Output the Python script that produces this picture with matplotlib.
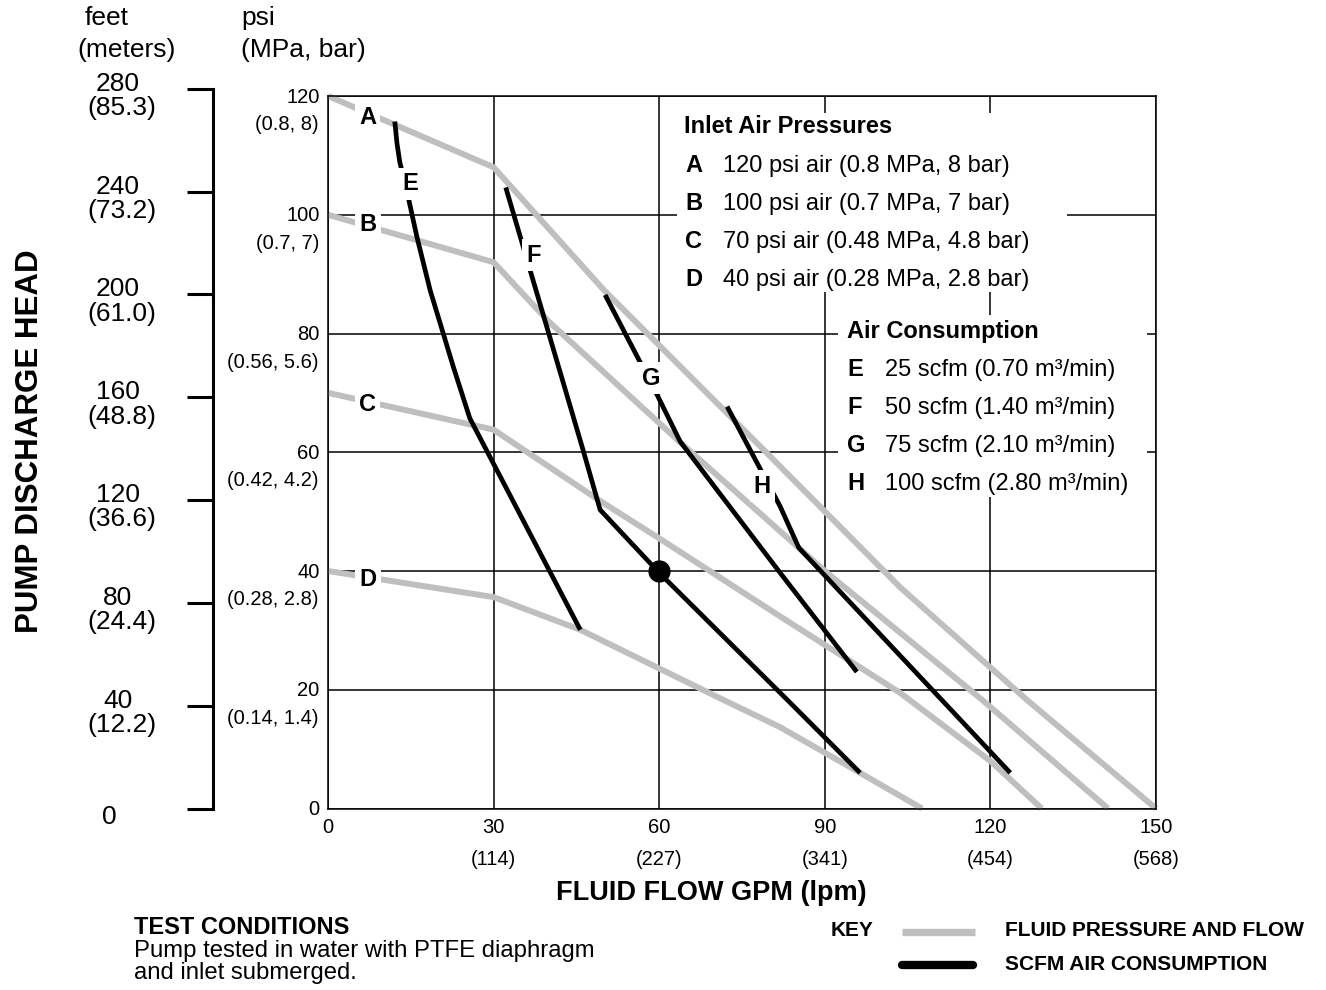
import matplotlib.pyplot as plt
from matplotlib.lines import Line2D
from matplotlib.patches import Rectangle

plt.rcParams['font.family'] = ['Liberation Sans', 'DejaVu Sans']

# fluid pressure / flow curves (GPM, psi)
gpm_a = [0, 30, 50, 78.3, 103.6, 126.6, 150]
psi_a = [120, 108, 87.3, 61, 37.3, 18.3, 0]
gpm_b = [0, 30, 40, 64, 90, 118.5, 141.3]
psi_b = [100, 92, 82, 61.5, 40, 18.3, 0]
gpm_c = [0, 30, 49.3, 60, 82, 103.6, 120, 129.3]
psi_c = [70, 63.8, 51.8, 45.5, 32.3, 19.5, 8, 0]
gpm_d = [0, 30, 45.7, 71.6, 81.9, 96.4, 107.6]
psi_d = [40, 35.6, 30.1, 18.3, 13.7, 6.0, 0]

# air consumption curves (GPM, psi)
gpm_e = [12.1, 12.5, 13.0, 14.5, 16.1, 18.5, 22.7, 25.7, 45.7]
psi_e = [115.7, 112.0, 108.9, 103.1, 96.3, 87.3, 74.4, 65.7, 30.1]
gpm_f = [32.2, 46.2, 49.3, 60, 83.2, 96.4]
psi_f = [104.6, 60.4, 50.3, 39.7, 18.3, 6.0]
gpm_g = [50.2, 59.5, 63.8, 81.9, 95.8]
psi_g = [86.5, 69.9, 61.8, 39.7, 23.0]
gpm_h = [72.3, 81.9, 85.3, 123.6]
psi_h = [67.7, 50.9, 43.9, 6.0]

# operating point
dot_gpm, dot_psi = 60, 40

# axis ticks
gpm_ticks = [0, 30, 60, 90, 120, 150]
lpm_labels = ['', '(114)', '(227)', '(341)', '(454)', '(568)']
psi_ticks = [0, 20, 40, 60, 80, 100, 120]
mpa_labels = ['', '(0.14, 1.4)', '(0.28, 2.8)', '(0.42, 4.2)',
              '(0.56, 5.6)', '(0.7, 7)', '(0.8, 8)']
feet_ticks = [0, 40, 80, 120, 160, 200, 240, 280]
meter_labels = ['', '(12.2)', '(24.4)', '(36.6)', '(48.8)', '(61.0)', '(73.2)', '(85.3)']
ft_per_psi = 2.31

inlet_keys = ['A', 'B', 'C', 'D']
inlet_text = ['120 psi air (0.8 MPa, 8 bar)', '100 psi air (0.7 MPa, 7 bar)',
              '70 psi air (0.48 MPa, 4.8 bar)', '40 psi air (0.28 MPa, 2.8 bar)']
air_keys = ['E', 'F', 'G', 'H']
air_text = ['25 scfm (0.70 m³/min)', '50 scfm (1.40 m³/min)',
            '75 scfm (2.10 m³/min)', '100 scfm (2.80 m³/min)']

W, H = 1326, 990
GRAY = '#bfbfbf'

fig = plt.figure(figsize=(W / 100, H / 100), dpi=100)
ax = fig.add_axes([328 / W, 1 - 808.5 / H, 828 / W, 712.5 / H])
ax.set_xlim(0, 150)
ax.set_ylim(0, 120)
ax.set_axisbelow(True)
ax.set_xticks(gpm_ticks)
ax.set_yticks(psi_ticks)
ax.grid(True, color='black', lw=1.1)
ax.tick_params(length=0, labelbottom=False, labelleft=False)
for s in ax.spines.values():
    s.set_linewidth(1.1)

# gray fluid curves
for g, p in [(gpm_a, psi_a), (gpm_b, psi_b), (gpm_c, psi_c), (gpm_d, psi_d)]:
    ax.plot(g, p, color=GRAY, lw=4.3, solid_capstyle='butt', solid_joinstyle='round', zorder=2, clip_on=False)
# black air curves
for g, p in [(gpm_e, psi_e), (gpm_f, psi_f), (gpm_g, psi_g), (gpm_h, psi_h)]:
    ax.plot(g, p, color='black', lw=3.4, solid_capstyle='butt', solid_joinstyle='round', zorder=3)
ax.plot(dot_gpm, dot_psi, 'o', color='black', ms=15, zorder=4)

# curve letters
curve_lbl = [('A', 7.2, 116.3), ('B', 7.2, 98.3), ('C', 7.2, 68.1), ('D', 7.2, 38.5),
             ('E', 14.9, 105.2), ('F', 37.2, 93.2), ('G', 58.5, 72.5), ('H', 78.7, 54.3)]
for t, x, y in curve_lbl:
    ax.text(x, y, t, ha='center', va='center', fontsize=17, fontweight='bold', zorder=5,
            bbox=dict(facecolor='white', edgecolor='none', pad=3))

# legend blocks with white background
ax.add_patch(Rectangle((0.4215, 0.725), 0.471, 0.251, transform=ax.transAxes,
                       facecolor='white', edgecolor='none', zorder=1))
ax.add_patch(Rectangle((0.616, 0.437), 0.373, 0.256, transform=ax.transAxes,
                       facecolor='white', edgecolor='none', zorder=1))
ax.text(0.430, 0.9475, 'Inlet Air Pressures', transform=ax.transAxes, fontsize=17,
        fontweight='bold', va='baseline', zorder=5)
for i, (k, t) in enumerate(zip(inlet_keys, inlet_text)):
    y = 0.8935 - i * 0.0533
    ax.text(0.4312, y, k, transform=ax.transAxes, fontsize=17, fontweight='bold', va='baseline', zorder=5)
    ax.text(0.4771, y, t, transform=ax.transAxes, fontsize=17, va='baseline', zorder=5)
ax.text(0.6268, 0.6604, 'Air Consumption', transform=ax.transAxes, fontsize=17,
        fontweight='bold', va='baseline', zorder=5)
for i, (k, t) in enumerate(zip(air_keys, air_text)):
    y = 0.6076 - i * 0.0533
    ax.text(0.6268, y, k, transform=ax.transAxes, fontsize=17, fontweight='bold', va='baseline', zorder=5)
    ax.text(0.6727, y, t, transform=ax.transAxes, fontsize=17, va='baseline', zorder=5)

# tick labels
for g, l in zip(gpm_ticks, lpm_labels):
    ax.annotate(str(g), xy=(g, 0), xycoords=('data', 'axes fraction'), xytext=(0, -17.5),
                textcoords='offset points', ha='center', va='baseline', fontsize=14.5)
    if l:
        ax.annotate(l, xy=(g, 0), xycoords=('data', 'axes fraction'), xytext=(0, -40.7),
                    textcoords='offset points', ha='center', va='baseline', fontsize=14.5)
for p, l in zip(psi_ticks, mpa_labels):
    ax.annotate(str(p), xy=(0, p), xycoords=('axes fraction', 'data'), xytext=(-6, -4.7),
                textcoords='offset points', ha='right', va='baseline', fontsize=14.5)
    if l:
        ax.annotate(l, xy=(0, p), xycoords=('axes fraction', 'data'), xytext=(-6.5, -24.5),
                    textcoords='offset points', ha='right', va='baseline', fontsize=14.5)

# feet axis
ft_top = 300
ax2 = fig.add_axes([213 / W, 1 - 808.5 / H, 30 / W, 712.5 / H * ft_top / (120 * ft_per_psi)])
ax2.set_ylim(0, ft_top)
ax2.patch.set_visible(False)
for s in ['top', 'right', 'bottom']:
    ax2.spines[s].set_visible(False)
ax2.spines['left'].set_linewidth(2.2)
ax2.spines['left'].set_bounds(0, 280)
ax2.set_xticks([])
ax2.set_yticks(feet_ticks)
ax2.tick_params(axis='y', length=18.7, width=2.2, labelleft=False)
for f, m in zip(feet_ticks, meter_labels):
    ax2.annotate(str(f), xy=(0, f), xycoords=('axes fraction', 'data'),
                 xytext=(-68.5 if m else -75, -1.4 if m else -11), textcoords='offset points',
                 ha='center', va='baseline', fontsize=19)
    if m:
        ax2.annotate(m, xy=(0, f), xycoords=('axes fraction', 'data'), xytext=(-65.5, -19),
                     textcoords='offset points', ha='center', va='baseline', fontsize=19)

# headers and axis titles
fig.text(85 / W, 1 - 25 / H, 'feet', fontsize=19, va='baseline')
fig.text(77 / W, 1 - 57 / H, '(meters)', fontsize=19, va='baseline')
fig.text(241 / W, 1 - 25 / H, 'psi', fontsize=19, va='baseline')
fig.text(241 / W, 1 - 57 / H, '(MPa, bar)', fontsize=19, va='baseline')
fig.text(30 / W, 1 - 441 / H, 'PUMP DISCHARGE HEAD', rotation=90, ha='center', va='center',
         fontsize=22.5, fontweight='bold')
fig.text(711 / W, 1 - 893 / H, 'FLUID FLOW GPM (lpm)', ha='center', va='center',
         fontsize=19.5, fontweight='bold')

# test conditions
fig.text(134 / W, 1 - 927 / H, 'TEST CONDITIONS', fontsize=17, fontweight='bold', va='center')
fig.text(134 / W, 1 - 951 / H, 'Pump tested in water with PTFE diaphragm', fontsize=17.2, va='center')
fig.text(134 / W, 1 - 973 / H, 'and inlet submerged.', fontsize=17.2, va='center')

# key
fig.text(831 / W, 1 - 931 / H, 'KEY', fontsize=15, fontweight='bold', va='center')
fig.add_artist(Line2D([902 / W, 975 / W], [1 - 932 / H, 1 - 932 / H], color=GRAY, lw=5.3,
                      solid_capstyle='butt'))
fig.add_artist(Line2D([902 / W, 973 / W], [1 - 964.5 / H, 1 - 964.5 / H], color='black', lw=6,
                      solid_capstyle='round'))
fig.text(1005 / W, 1 - 931 / H, 'FLUID PRESSURE AND FLOW', fontsize=15, fontweight='bold', va='center')
fig.text(1005 / W, 1 - 965 / H, 'SCFM AIR CONSUMPTION', fontsize=15, fontweight='bold', va='center')

fig.savefig('out.png', dpi=100)
